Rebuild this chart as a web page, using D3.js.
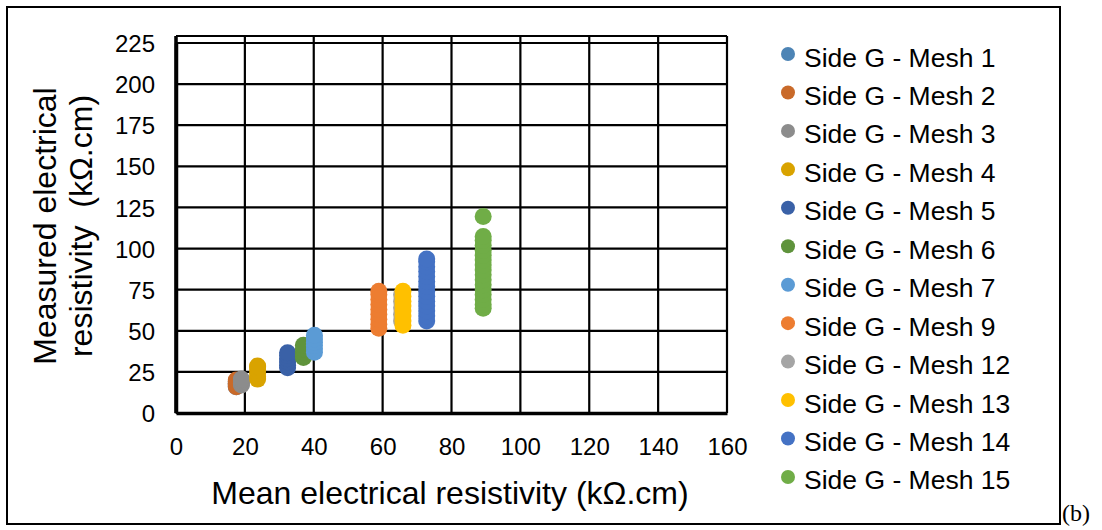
<!DOCTYPE html>
<html>
<head>
<meta charset="utf-8">
<script src="https://cdn.jsdelivr.net/npm/d3@7"></script>
<style>
  html, body { margin: 0; padding: 0; background: #fff; }
  svg { display: block; font-family: "Liberation Sans", Arial, sans-serif; }
</style>
</head>
<body>
<svg id="chart" width="1102" height="530"></svg>
<script>
// ---- data ----
const categories = ["Side G - Mesh 1", "Side G - Mesh 2", "Side G - Mesh 3", "Side G - Mesh 4",
  "Side G - Mesh 5", "Side G - Mesh 6", "Side G - Mesh 7", "Side G - Mesh 9",
  "Side G - Mesh 12", "Side G - Mesh 13", "Side G - Mesh 14", "Side G - Mesh 15"];
const colors = ["#4D84B5", "#C96A2A", "#8C8C8C", "#D9A300", "#3A61A7", "#5F933C",
  "#5B9BD5", "#ED7D31", "#A5A5A5", "#FFC000", "#4472C4", "#70AD47"];
const meanValues = [17.5, 17.5, 19, 23.7, 32.4, 37, 40.2, 58.9, 65.5, 65.9, 72.8, 89.2];
const mesh1 = [16, 17, 18, 19];
const mesh2 = [16, 17, 18, 19, 20];
const mesh3 = [17, 18, 19, 20, 20.6];
const mesh4 = [20.6, 22, 24, 26, 28, 28.6];
const mesh5 = [27.5, 29, 31, 33, 35, 36.7];
const mesh6 = [33.7, 35, 37, 39, 41.2];
const mesh7 = [37, 39, 41, 43, 45, 47.3];
const mesh9 = [51.5, 54, 57, 60, 63, 66, 69, 72, 74];
const mesh12 = [56, 60, 64, 68, 72];
const mesh13 = [53.4, 56, 59, 62, 65, 68, 71, 74];
const mesh14 = [56, 59, 62, 65, 68, 71, 74, 77, 80, 83, 86, 89, 92, 93.7];
const mesh15 = [63.7, 66, 69, 72, 75, 78, 81, 84, 87, 90, 93, 96, 99, 102, 105, 107.3, 119.5];
const measured = [mesh1, mesh2, mesh3, mesh4, mesh5, mesh6, mesh7, mesh9, mesh12, mesh13, mesh14, mesh15];
const xTicks = [0, 20, 40, 60, 80, 100, 120, 140, 160];
const yTicks = [0, 25, 50, 75, 100, 125, 150, 175, 200, 225];
const xTitle = "Mean electrical resistivity (kΩ.cm)";
const yTitle = ["Measured electrical", "resistivity  (kΩ.cm)"];
const panelLabel = "(b)";

// ---- layout ----
const svg = d3.select("#chart");
const x = d3.scaleLinear().domain([0, 160]).range([176, 727]);
const y = d3.scaleLinear().domain([0, 225]).range([413, 43]);
const plotTop = 36;

// outer border
svg.append("rect").attr("x", 7).attr("y", 7).attr("width", 1053).attr("height", 517)
  .attr("fill", "none").attr("stroke", "#000").attr("stroke-width", 2);

// horizontal gridlines
svg.append("g").selectAll("line").data(yTicks).join("line")
  .attr("x1", x(0)).attr("x2", x(160))
  .attr("y1", d => y(d)).attr("y2", d => y(d))
  .attr("stroke", "#000").attr("stroke-width", 2.2);
// top border of plot area
svg.append("line").attr("x1", x(0)).attr("x2", x(160)).attr("y1", plotTop).attr("y2", plotTop)
  .attr("stroke", "#000").attr("stroke-width", 2.2);
// vertical gridlines
svg.append("g").selectAll("line").data(xTicks).join("line")
  .attr("x1", d => x(d)).attr("x2", d => x(d))
  .attr("y1", plotTop).attr("y2", y(0))
  .attr("stroke", "#000").attr("stroke-width", 2.2);

// axes (via d3 axis, labels only)
const xAxis = d3.axisBottom(x).tickValues(xTicks).tickSize(0).tickPadding(0).tickFormat(d3.format("d"));
const gx = svg.append("g").attr("transform", `translate(0,${y(0)})`).call(xAxis);
gx.select(".domain").attr("stroke", "#000").attr("stroke-width", 3.5);
gx.selectAll("text").attr("font-size", 24).attr("fill", "#000").attr("dy", 0).attr("y", 42)
  .attr("font-family", "Liberation Sans, Arial, sans-serif");

const yAxis = d3.axisLeft(y).tickValues(yTicks).tickSize(0).tickPadding(0).tickFormat(d3.format("d"));
const gy = svg.append("g").attr("transform", `translate(${x(0)},0)`).call(yAxis);
gy.select(".domain").attr("stroke", "#000").attr("stroke-width", 3.5);
gy.selectAll("text").attr("font-size", 24).attr("fill", "#000").attr("x", -21).attr("dy", "0.36em")
  .attr("font-family", "Liberation Sans, Arial, sans-serif");

// extend left axis line to plot top
svg.append("line").attr("x1", x(0)).attr("x2", x(0)).attr("y1", plotTop).attr("y2", y(0))
  .attr("stroke", "#000").attr("stroke-width", 3.5);

// data points
const pts = [];
measured.forEach((arr, i) => arr.forEach(v => pts.push({ s: i, x: meanValues[i], y: v })));
svg.append("g").selectAll("circle").data(pts).join("circle")
  .attr("cx", d => x(d.x)).attr("cy", d => y(d.y)).attr("r", 8.5)
  .attr("fill", d => colors[d.s]);

// axis titles
svg.append("text").attr("x", 450).attr("y", 504).attr("text-anchor", "middle")
  .attr("font-size", 32).attr("fill", "#000").text(xTitle);
const yt = svg.append("text").attr("transform", "translate(0,226) rotate(-90)")
  .attr("text-anchor", "middle").attr("font-size", 32).attr("fill", "#000");
yt.append("tspan").attr("x", 0).attr("y", 56).text(yTitle[0]);
yt.append("tspan").attr("x", 0).attr("y", 92).attr("style", "white-space:pre").text(yTitle[1]);

// legend
const lg = svg.append("g");
const rows = lg.selectAll("g").data(categories).join("g")
  .attr("transform", (d, i) => `translate(788,${57 + i * 38.45})`);
rows.append("circle").attr("cx", 0).attr("cy", -3).attr("r", 7).attr("fill", (d, i) => colors[i]);
rows.append("text").attr("x", 16).attr("y", 0).attr("dy", "0.36em")
  .attr("font-size", 26.5).attr("fill", "#000").text(d => d);

// panel label
svg.append("text").attr("x", 1062).attr("y", 521).attr("font-family", "Liberation Serif, Times New Roman, serif")
  .attr("font-size", 24).attr("fill", "#000").text(panelLabel);
</script>
</body>
</html>
